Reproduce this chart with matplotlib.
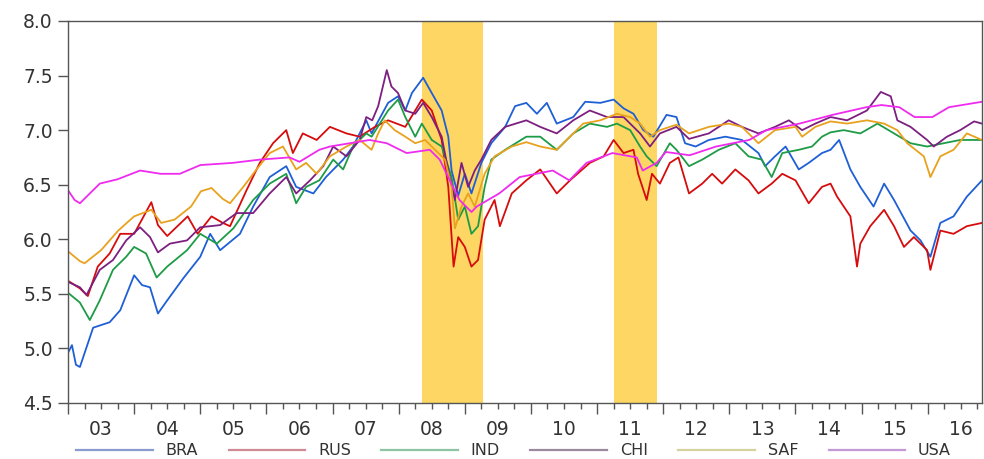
import numpy as np
import matplotlib
matplotlib.use('Agg')
import matplotlib.pyplot as plt
from matplotlib.lines import Line2D
import matplotlib.transforms as mtransforms

#%%
# Data (decimal years)
bra_t = [2003.0, 2003.06, 2003.12, 2003.18, 2003.28, 2003.38, 2003.63, 2003.79, 2004.0, 2004.12,
         2004.24, 2004.36, 2004.5, 2004.74, 2005.0, 2005.15, 2005.3, 2005.6, 2005.8, 2006.05,
         2006.3, 2006.45, 2006.71, 2006.9, 2007.16, 2007.31, 2007.51, 2007.59, 2007.84, 2007.99,
         2008.1, 2008.2, 2008.37, 2008.5, 2008.65, 2008.75, 2008.8, 2008.9, 2009.0, 2009.1,
         2009.25, 2009.4, 2009.61, 2009.76, 2009.93, 2010.09, 2010.24, 2010.39, 2010.64, 2010.82,
         2011.05, 2011.25, 2011.4, 2011.55, 2011.7, 2011.85, 2012.05, 2012.2, 2012.33, 2012.49,
         2012.69, 2012.94, 2013.19, 2013.44, 2013.54, 2013.69, 2013.85, 2014.05, 2014.2, 2014.4,
         2014.53, 2014.66, 2014.83, 2014.98, 2015.18, 2015.34, 2015.49, 2015.74, 2015.89, 2016.04,
         2016.19, 2016.39, 2016.59, 2016.82]
bra_v = [4.96, 5.03, 4.85, 4.83, 5.01, 5.19, 5.24, 5.35, 5.67, 5.58,
         5.56, 5.32, 5.44, 5.64, 5.84, 6.05, 5.90, 6.05, 6.30, 6.57,
         6.67, 6.48, 6.42, 6.57, 6.73, 6.85, 7.09, 6.97, 7.25, 7.31,
         7.18, 7.34, 7.48, 7.34, 7.18, 6.94, 6.63, 6.40, 6.60, 6.42,
         6.70, 6.88, 7.03, 7.22, 7.25, 7.15, 7.25, 7.06, 7.12, 7.26,
         7.25, 7.28, 7.20, 7.15, 7.00, 6.94, 7.14, 7.12, 6.88, 6.85,
         6.91, 6.94, 6.91, 6.79, 6.67, 6.76, 6.85, 6.64, 6.70, 6.79,
         6.82, 6.91, 6.64, 6.48, 6.30, 6.51, 6.36, 6.08, 5.99, 5.84,
         6.15, 6.21, 6.39, 6.54]

rus_t = [2003.0, 2003.18, 2003.3, 2003.45, 2003.63, 2003.79, 2004.0, 2004.26, 2004.36, 2004.5,
         2004.81, 2004.96, 2005.17, 2005.34, 2005.45, 2005.7, 2005.9, 2006.1, 2006.3, 2006.4,
         2006.55, 2006.76, 2006.96, 2007.21, 2007.41, 2007.64, 2007.84, 2008.1, 2008.35, 2008.5,
         2008.65, 2008.75, 2008.83, 2008.9, 2009.0, 2009.1, 2009.2, 2009.3, 2009.45, 2009.53,
         2009.71, 2009.93, 2010.14, 2010.39, 2010.59, 2010.89, 2011.1, 2011.25, 2011.4, 2011.55,
         2011.62, 2011.75, 2011.83, 2011.95, 2012.1, 2012.23, 2012.39, 2012.59, 2012.74, 2012.89,
         2013.09, 2013.29, 2013.44, 2013.64, 2013.8, 2014.0, 2014.2, 2014.4, 2014.53, 2014.63,
         2014.83, 2014.93, 2014.98, 2015.13, 2015.34, 2015.49, 2015.64, 2015.79, 2015.99, 2016.04,
         2016.19, 2016.39, 2016.59, 2016.82]
rus_v = [5.62, 5.55, 5.48, 5.75, 5.87, 6.05, 6.05, 6.34, 6.13, 6.03,
         6.21, 6.05, 6.21, 6.15, 6.12, 6.45, 6.70, 6.88, 7.00, 6.79,
         6.97, 6.91, 7.03, 6.97, 6.94, 7.03, 7.09, 7.03, 7.28, 7.18,
         6.91, 6.48, 5.75, 6.02, 5.93, 5.75, 5.81, 6.18, 6.36, 6.12,
         6.42, 6.54, 6.64, 6.42, 6.54, 6.70, 6.76, 6.91, 6.79, 6.82,
         6.60, 6.36, 6.60, 6.51, 6.70, 6.75, 6.42, 6.51, 6.60, 6.51,
         6.64, 6.54, 6.42, 6.51, 6.60, 6.54, 6.33, 6.48, 6.51, 6.39,
         6.21, 5.75, 5.96, 6.12, 6.27, 6.12, 5.93, 6.02, 5.90, 5.72,
         6.08, 6.05, 6.12, 6.15]

ind_t = [2003.0, 2003.18, 2003.33, 2003.48, 2003.68, 2003.88, 2004.0, 2004.18, 2004.34, 2004.5,
         2004.8, 2005.0, 2005.25, 2005.5, 2005.8, 2006.05, 2006.3, 2006.45, 2006.6, 2006.8,
         2007.01, 2007.16, 2007.31, 2007.51, 2007.59, 2007.84, 2007.99, 2008.1, 2008.25, 2008.35,
         2008.5, 2008.65, 2008.8, 2008.9, 2009.0, 2009.1, 2009.2, 2009.3, 2009.4, 2009.61,
         2009.93, 2010.14, 2010.39, 2010.64, 2010.89, 2011.15, 2011.3, 2011.5, 2011.65, 2011.75,
         2011.9, 2012.1, 2012.2, 2012.39, 2012.59, 2012.84, 2013.09, 2013.29, 2013.49, 2013.64,
         2013.8, 2014.05, 2014.25, 2014.4, 2014.53, 2014.73, 2014.98, 2015.24, 2015.49, 2015.74,
         2015.99, 2016.24, 2016.49, 2016.82]
ind_v = [5.51, 5.42, 5.26, 5.44, 5.72, 5.84, 5.93, 5.87, 5.65, 5.75,
         5.90, 6.05, 5.96, 6.10, 6.36, 6.51, 6.60, 6.33, 6.48, 6.54,
         6.73, 6.64, 6.85, 6.97, 6.94, 7.18, 7.28, 7.12, 6.94, 7.06,
         6.91, 6.85, 6.57, 6.18, 6.30, 6.05, 6.12, 6.48, 6.73, 6.82,
         6.94, 6.94, 6.82, 6.97, 7.06, 7.03, 7.06, 7.00, 6.85, 6.76,
         6.67, 6.88, 6.82, 6.67, 6.73, 6.82, 6.88, 6.76, 6.73, 6.57,
         6.79, 6.82, 6.85, 6.94, 6.98, 7.00, 6.97, 7.06, 6.97, 6.88,
         6.85, 6.88, 6.91, 6.91]

chi_t = [2003.0, 2003.18, 2003.28, 2003.48, 2003.68, 2003.88, 2004.09, 2004.24, 2004.36, 2004.54,
         2004.8, 2005.0, 2005.3, 2005.55, 2005.8, 2006.05, 2006.3, 2006.45, 2006.66, 2006.86,
         2007.01, 2007.21, 2007.41, 2007.51, 2007.6, 2007.69, 2007.82, 2007.89, 2007.99, 2008.1,
         2008.25, 2008.37, 2008.5, 2008.65, 2008.75, 2008.85, 2008.95, 2009.05, 2009.15, 2009.25,
         2009.4, 2009.61, 2009.93, 2010.14, 2010.39, 2010.64, 2010.89, 2011.15, 2011.4, 2011.65,
         2011.8, 2011.95, 2012.2, 2012.39, 2012.69, 2012.99, 2013.19, 2013.44, 2013.69, 2013.9,
         2014.1, 2014.3, 2014.53, 2014.78, 2015.08, 2015.29, 2015.44, 2015.54, 2015.74, 2015.99,
         2016.09, 2016.29, 2016.49, 2016.7, 2016.82]
chi_v = [5.61, 5.56, 5.49, 5.72, 5.81, 5.99, 6.11, 6.02, 5.88, 5.96,
         5.99, 6.11, 6.13, 6.24, 6.24, 6.42, 6.57, 6.42, 6.54, 6.67,
         6.85, 6.76, 6.91, 7.12, 7.09, 7.22, 7.55, 7.40, 7.34, 7.18,
         7.15, 7.25, 7.12, 6.94, 6.63, 6.36, 6.70, 6.48, 6.63, 6.73,
         6.91, 7.03, 7.09, 7.03, 6.97, 7.09, 7.18, 7.12, 7.12, 6.97,
         6.85, 6.97, 7.03, 6.92, 6.97, 7.09, 7.03, 6.97, 7.03, 7.09,
         7.00, 7.06, 7.12, 7.09, 7.18, 7.35, 7.31, 7.09, 7.03, 6.91,
         6.85, 6.94, 7.00, 7.08, 7.06]

saf_t = [2003.0, 2003.18, 2003.25, 2003.5, 2003.76, 2004.0, 2004.26, 2004.41, 2004.61, 2004.86,
         2005.01, 2005.17, 2005.34, 2005.45, 2005.65, 2005.85, 2006.05, 2006.25, 2006.45, 2006.6,
         2006.76, 2006.96, 2007.21, 2007.41, 2007.59, 2007.69, 2007.79, 2007.94, 2008.1, 2008.25,
         2008.4, 2008.55, 2008.7, 2008.8, 2008.85, 2008.95, 2009.05, 2009.15, 2009.3, 2009.45,
         2009.71, 2009.93, 2010.14, 2010.39, 2010.59, 2010.79, 2011.05, 2011.3, 2011.5, 2011.65,
         2011.8, 2011.95, 2012.2, 2012.39, 2012.69, 2012.99, 2013.19, 2013.44, 2013.69, 2014.0,
         2014.1, 2014.3, 2014.53, 2014.78, 2015.08, 2015.34, 2015.54, 2015.69, 2015.94, 2016.04,
         2016.19, 2016.39, 2016.59, 2016.82]
saf_v = [5.89, 5.80, 5.78, 5.90, 6.08, 6.21, 6.27, 6.15, 6.18, 6.30,
         6.44, 6.47, 6.37, 6.33, 6.48, 6.64, 6.79, 6.85, 6.64, 6.70,
         6.60, 6.76, 6.85, 6.91, 6.82, 6.97, 7.09, 7.00, 6.94, 6.88,
         6.91, 6.82, 6.73, 6.48, 6.10, 6.30, 6.42, 6.30, 6.60, 6.76,
         6.85, 6.89, 6.85, 6.82, 6.94, 7.06, 7.09, 7.15, 7.12, 7.06,
         6.94, 7.00, 7.05, 6.97, 7.03, 7.06, 7.03, 6.88, 7.00, 7.03,
         6.94, 7.03, 7.08, 7.06, 7.09, 7.06, 7.00, 6.88, 6.76, 6.57,
         6.76, 6.82, 6.97, 6.91]

usa_t = [2003.0, 2003.1, 2003.18, 2003.48, 2003.75, 2004.09, 2004.4, 2004.69, 2005.0, 2005.49,
         2005.9, 2006.35, 2006.5, 2006.8, 2006.96, 2007.56, 2007.82, 2008.12, 2008.47, 2008.62,
         2008.82, 2008.92, 2009.1, 2009.18, 2009.52, 2009.83, 2010.33, 2010.58, 2010.84, 2011.23,
         2011.6, 2011.69, 2011.9, 2012.04, 2012.4, 2012.8, 2013.3, 2013.56, 2014.06, 2014.56,
         2015.07, 2015.3, 2015.57, 2015.8, 2016.07, 2016.32, 2016.82]
usa_v = [6.45, 6.36, 6.33, 6.51, 6.55, 6.63, 6.60, 6.60, 6.68, 6.70,
         6.73, 6.75, 6.71, 6.82, 6.85, 6.91, 6.88, 6.79, 6.82, 6.73,
         6.48, 6.36, 6.25, 6.30, 6.42, 6.57, 6.63, 6.54, 6.70, 6.79,
         6.75, 6.63, 6.70, 6.80, 6.77, 6.85, 6.91, 7.00, 7.06, 7.14,
         7.21, 7.23, 7.21, 7.12, 7.12, 7.21, 7.26]

names = ['BRA', 'RUS', 'IND', 'CHI', 'SAF', 'USA']
colors = ['#1f5fd6', '#d60c0c', '#1e9b46', '#7d1f80', '#e8a21e', '#ee2bee']
legend_colors = ['#8a9bd0', '#d08a96', '#8fc4a4', '#9a8a9c', '#d6d2a0', '#c49ad6']

# shaded periods
band_start = [2008.35, 2011.26]
band_end = [2009.28, 2011.91]

years = list(range(2003, 2017))
year_labels = ['03', '04', '05', '06', '07', '08', '09', '10', '11', '12', '13', '14', '15', '16']

#%%
fig = plt.figure(figsize=(9.84, 4.59), dpi=100)
ax = fig.add_axes([68/984, 1-403/459, (982-68)/984, (403-21)/459])

for s, e in zip(band_start, band_end):
    ax.axvspan(s, e, color='#fdd663', lw=0, zorder=0)

series = [(bra_t, bra_v), (rus_t, rus_v), (ind_t, ind_v), (chi_t, chi_v), (saf_t, saf_v), (usa_t, usa_v)]
for (t, v), c in zip(series, colors):
    ax.plot(t, v, color=c, lw=1.3, zorder=2)

ax.set_xlim(2003.0, 2016.82)
ax.set_ylim(4.5, 8.0)
ax.set_yticks(np.arange(4.5, 8.01, 0.5))
ax.set_yticklabels(['%.1f' % y for y in np.arange(4.5, 8.01, 0.5)])

ax.set_xticks(years)
ax.set_xticklabels([])
ax.set_xticks([y + q for y in years for q in (0.25, 0.5, 0.75)], minor=True)
ax.tick_params(axis='x', which='major', length=8, width=1, color='#555555', direction='out')
ax.tick_params(axis='x', which='minor', length=4, width=1, color='#555555', direction='out')
ax.tick_params(axis='y', which='major', length=7, width=1, color='#555555', direction='out',
               labelsize=13.5, labelcolor='#333333', pad=4)

# year labels centred between year ticks
trans = mtransforms.blended_transform_factory(ax.transData, ax.transAxes)
for y, lab in zip(years, year_labels):
    ax.text(y + 0.5, -0.045, lab, transform=trans, ha='center', va='top',
            fontsize=13.5, color='#333333')

for sp in ax.spines.values():
    sp.set_color('#555555')
    sp.set_linewidth(1.0)

handles = [Line2D([0], [0], color=c, lw=1.6) for c in legend_colors]
fig.legend(handles, names, loc='lower center', bbox_to_anchor=(0.522, -0.03), ncol=6,
           frameon=False, fontsize=11.5, handlelength=4.8, handletextpad=0.8,
           columnspacing=1.9, labelcolor='#333333')

fig.savefig('out.png', dpi=100)
